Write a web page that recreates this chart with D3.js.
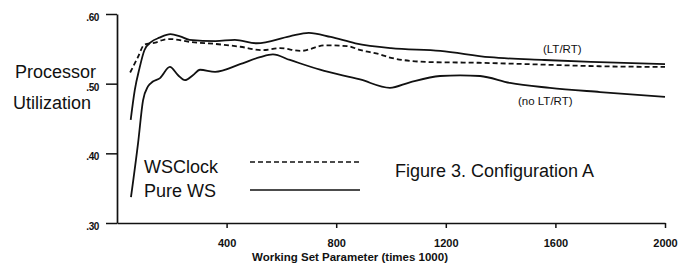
<!DOCTYPE html>
<html>
<head>
<meta charset="utf-8">
<script src="https://cdn.jsdelivr.net/npm/d3@7"></script>
<style>
  html, body { margin: 0; padding: 0; background: #fff; }
  svg text { font-family: "Liberation Sans", Arial, Helvetica, sans-serif; fill: #111; }
</style>
</head>
<body>
<div id="vis"></div>
<script>
// values: [working set parameter (x1000), utilization]
var wsClockLtRt = [
  [48, .516], [75, .537], [100, .556], [140, .559], [170, .563], [195, .564],
  [265, .560], [360, .557], [450, .553], [530, .548], [595, .551], [670, .547],
  [760, .555], [840, .554], [890, .548], [960, .542], [1000, .537], [1140, .531],
  [1320, .530], [1500, .528], [1760, .525], [2000, .524]
];

var pureWsLtRt = [
  [50, .448], [65, .491], [82, .522], [100, .548], [125, .560], [155, .566],
  [195, .571], [230, .568], [265, .563], [360, .561], [430, .563], [510, .558],
  [630, .568], [700, .573], [780, .567], [870, .558], [1000, .551], [1180, .547],
  [1360, .538], [1560, .534], [1760, .531], [2000, .528]
];

var pureWsNoLtRt = [
  [51, .337], [77, .415], [95, .476], [113, .496], [131, .503], [157, .508],
  [193, .524], [223, .512], [248, .505], [277, .512], [303, .520], [358, .517],
  [449, .528], [522, .538], [569, .542], [631, .534], [741, .520], [887, .506],
  [996, .494], [1069, .502], [1179, .511], [1252, .512], [1325, .511], [1434, .501],
  [1580, .494], [1763, .488], [2000, .481]
];

var xTicks = [400, 800, 1200, 1600, 2000],
    yTicks = [.30, .40, .50, .60];

var legendNames = ['WSClock', 'Pure WS'],
    curveLabels = ['(LT/RT)', '(no LT/RT)'],
    yLabelLines = ['Processor', 'Utilization'],
    xLabel = 'Working Set Parameter (times 1000)',
    caption = 'Figure 3. Configuration A';

var width = 684, height = 270;

var xScale = d3.scaleLinear().domain([0, 2000]).range([117, 665]);
var yScale = d3.scaleLinear().domain([.30, .60]).range([223, 14]);

var svg = d3.select('#vis').append('svg')
  .attr('width', width)
  .attr('height', height);

/* axes */
var xAxis = d3.axisBottom(xScale)
  .tickValues(xTicks)
  .tickSizeInner(5)
  .tickSizeOuter(0)
  .tickPadding(11)
  .tickFormat(d3.format('d'));

var yAxis = d3.axisLeft(yScale)
  .tickValues(yTicks)
  .tickSizeInner(11)
  .tickSizeOuter(0)
  .tickPadding(7)
  .tickFormat(function(d) {
    return d3.format('.2f')(d).replace(/^0/, '');
  });

var gx = svg.append('g')
  .attr('transform', 'translate(0,' + yScale(.30) + ')')
  .call(xAxis);

var gy = svg.append('g')
  .attr('transform', 'translate(' + xScale(0) + ',0)')
  .call(yAxis);

[gx, gy].forEach(function(g) {
  g.select('.domain').attr('stroke', '#111').attr('stroke-width', 1.7);
  g.selectAll('.tick line').attr('stroke', '#111').attr('stroke-width', 1.5);
  g.selectAll('.tick text')
    .attr('fill', '#111')
    .style('font-family', '"Liberation Sans", Arial, sans-serif')
    .style('font-weight', 'bold');
});

gx.selectAll('.tick text').style('font-size', '11px');
gy.selectAll('.tick text')
  .style('font-size', '10px')
  .style('letter-spacing', '-0.4px')
  .attr('dy', '0.65em');

/* curves */
var line = d3.line()
  .x(function(d) { return xScale(d[0]); })
  .y(function(d) { return yScale(d[1]); })
  .curve(d3.curveMonotoneX);

var series = [
  { data: wsClockLtRt, dash: '5,3' },
  { data: pureWsLtRt, dash: null },
  { data: pureWsNoLtRt, dash: null }
];

svg.selectAll('.series')
  .data(series)
  .enter().append('path')
    .classed('series', true)
    .attr('d', function(d) { return line(d.data); })
    .attr('fill', 'none')
    .attr('stroke', '#111')
    .attr('stroke-width', 1.8)
    .attr('stroke-dasharray', function(d) { return d.dash; });

/* curve labels */
svg.selectAll('.curve-label')
  .data(curveLabels)
  .enter().append('text')
    .classed('curve-label', true)
    .attr('x', function(d, i) { return i === 0 ? 543 : 518; })
    .attr('y', function(d, i) { return i === 0 ? 53 : 105; })
    .style('font-size', '11.5px')
    .text(function(d) { return d; });

/* y title */
svg.selectAll('.y-title')
  .data(yLabelLines)
  .enter().append('text')
    .classed('y-title', true)
    .attr('x', function(d, i) { return i === 0 ? 15 : 13; })
    .attr('y', function(d, i) { return i === 0 ? 78 : 109; })
    .style('font-size', '18px')
    .text(function(d) { return d; });

/* x title */
svg.append('text')
  .attr('x', 350)
  .attr('y', 261)
  .attr('text-anchor', 'middle')
  .style('font-size', '11.5px')
  .style('font-weight', 'bold')
  .text(xLabel);

/* legend */
var legend = svg.selectAll('.legend')
  .data(legendNames)
  .enter().append('g')
    .classed('legend', true)
    .attr('transform', function(d, i) { return 'translate(0,' + (i * 24) + ')'; });

legend.append('text')
  .attr('x', 144)
  .attr('y', 173)
  .style('font-size', '18px')
  .text(function(d) { return d; });

legend.append('line')
  .attr('x1', 250)
  .attr('x2', 360)
  .attr('y1', function(d, i) { return i === 0 ? 162 : 166; })
  .attr('y2', function(d, i) { return i === 0 ? 162 : 166; })
  .attr('stroke', '#111')
  .attr('stroke-width', 1.7)
  .attr('stroke-dasharray', function(d, i) { return i === 0 ? '5,3' : null; });

/* caption */
svg.append('text')
  .attr('x', 395)
  .attr('y', 177)
  .style('font-size', '18px')
  .text(caption);
</script>
</body>
</html>
